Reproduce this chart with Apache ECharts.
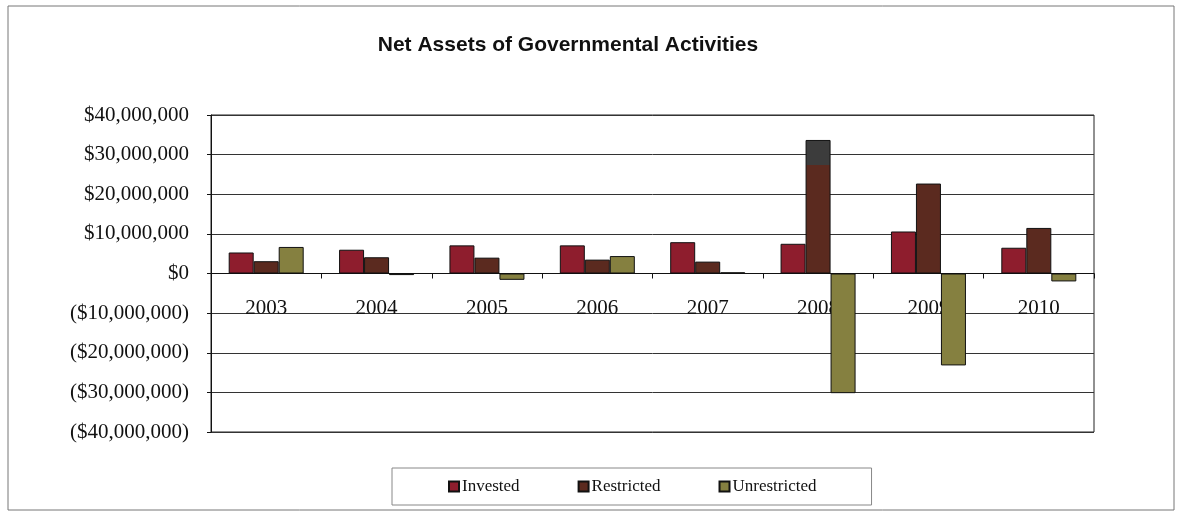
<!DOCTYPE html>
<html>
<head>
<meta charset="utf-8">
<script src="https://cdn.jsdelivr.net/npm/echarts@6/dist/echarts.min.js"></script>
<style>
html,body{margin:0;padding:0;background:#fff;}
#chart{width:1177px;height:513px;}
</style>
</head>
<body>
<div id="chart"></div>
<script>
var titleText = 'Net Assets of Governmental Activities';
var categories = ['2003','2004','2005','2006','2007','2008','2009','2010'];
var seriesNames = ['Invested','Restricted','Unrestricted'];
var invested = [5300000, 6000000, 7100000, 7100000, 7900000, 7500000, 10600000, 6500000];
var restricted = [3100000, 4100000, 4000000, 3500000, 3000000, 33700000, 22700000, 11500000];
var unrestricted = [6700000, -400000, -1600000, 4400000, 300000, -30200000, -23200000, -2000000];

var colors = ['#8e1d2d', '#5b2a1f', '#858040'];

function fmtMoney(v){
  var s = Math.abs(v).toFixed(0).replace(/\B(?=(\d{3})+(?!\d))/g, ',');
  return v < 0 ? '($' + s + ')' : '$' + s;
}

var restrictedData = restricted.map(function(v, i){
  if (i === 5) {
    return {value: v, itemStyle: {color: {type:'linear', x:0, y:0, x2:0, y2:1, colorStops:[
      {offset:0, color:'#3c3c3c'}, {offset:0.19, color:'#3c3c3c'},
      {offset:0.19, color:'#5b2a1f'}, {offset:1, color:'#5b2a1f'}]}}};
  }
  return v;
});

var chart = echarts.init(document.getElementById('chart'), null, {renderer:'canvas'});
var serif = '"Liberation Serif", "Times New Roman", serif';

function bar(name, data, color){
  return {
    name: name, type: 'bar', data: data, barWidth: 25, barGap: '0%',
    itemStyle: {color: color, borderColor: '#111', borderWidth: 1},
    emphasis: {disabled: true}
  };
}

var gridTop = 115, gridBottom = 81, chartH = 513;
var plotH = chartH - gridTop - gridBottom;

chart.setOption({
  animation: false,
  backgroundColor: '#fff',
  graphic: [
    {type:'rect', shape:{x:8, y:6, width:1166, height:504}, style:{fill:'none', stroke:'#777', lineWidth:1}, silent:true},
    {type:'text', x:568, y:45, style:{text:titleText, fontFamily:'"Liberation Sans", Arial, sans-serif', fontWeight:'bold', fontSize:21, fill:'#111', textAlign:'center', textVerticalAlign:'middle'}}
  ],
  color: colors,
  legend: {
    left: 392, top: 468,
    padding: [10, 55, 10, 56],
    borderColor: '#888', borderWidth: 1,
    itemWidth: 10, itemHeight: 10, itemGap: 58,
    icon: 'rect',
    textStyle: {fontFamily: serif, fontSize: 17, color: '#111', padding: [0,0,0,-2]},
    data: seriesNames
  },
  grid: {left: 211, right: 83, top: gridTop, bottom: gridBottom, show: true, borderColor: '#222', borderWidth: 1, containLabel: false},
  xAxis: {
    type: 'category', data: categories,
    position: 'bottom',
    offset: -plotH / 2,
    axisLine: {onZero: false, lineStyle: {color: '#111', width: 1}},
    axisTick: {show: true, length: 5, lineStyle: {color: '#111'}},
    axisLabel: {fontFamily: serif, fontSize: 21, color: '#111', margin: 24}
  },
  yAxis: {
    type: 'value', min: -40000000, max: 40000000, interval: 10000000,
    axisLine: {show: true, lineStyle: {color: '#111'}},
    axisTick: {show: true, length: 4, lineStyle: {color: '#111'}},
    splitLine: {show: true, lineStyle: {color: '#333', width: 1}},
    axisLabel: {fontFamily: serif, fontSize: 21, color: '#111', margin: 22, formatter: fmtMoney}
  },
  series: [
    bar(seriesNames[0], invested, colors[0]),
    bar(seriesNames[1], restrictedData, colors[1]),
    bar(seriesNames[2], unrestricted, colors[2])
  ]
});
</script>
</body>
</html>
